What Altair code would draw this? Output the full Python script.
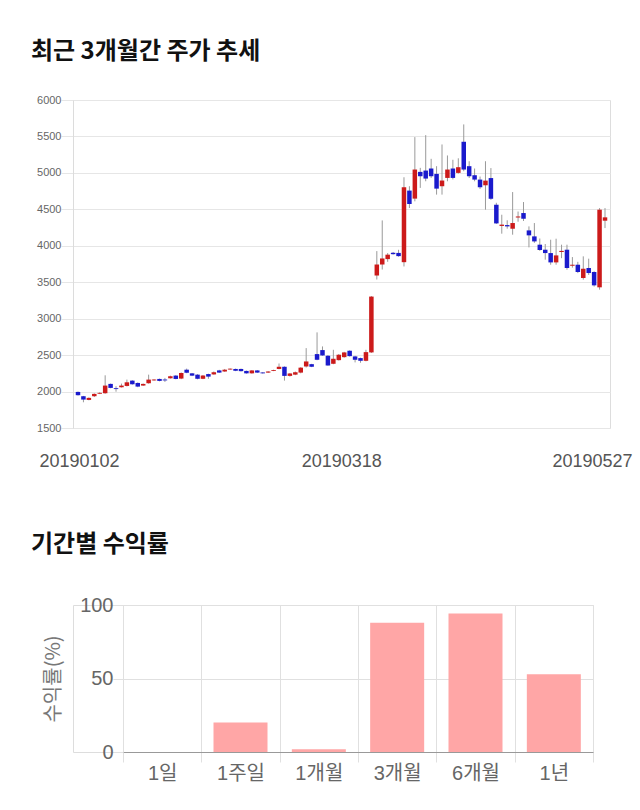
import altair as alt
import pandas as pd
import numpy as np

# ---- trading days (2019) ----
jan = [2, 3, 4, 7, 8, 9, 10, 11, 14, 15, 16, 17, 18, 21, 22, 23, 24, 25, 28, 29, 30, 31]
feb = [1, 7, 8, 11, 12, 13, 14, 15, 18, 19, 20, 21, 22, 25, 26, 27, 28]
mar = [4, 5, 6, 7, 8, 11, 12, 13, 14, 15, 18, 19, 20, 21, 22, 25, 26, 27, 28, 29]
apr = [1, 2, 3, 4, 5, 8, 9, 10, 11, 12, 15, 16, 17, 18, 19, 22, 23, 24, 25, 26, 29, 30]
may = [2, 3, 7, 8, 9, 10, 13, 14, 15, 16, 17, 20, 21, 22, 23, 24, 27]
dates = [f"2019{m:02d}{d:02d}" for m, days in ((1, jan), (2, feb), (3, mar), (4, apr), (5, may)) for d in days]

open_ = [1995, 1936, 1885, 1936, 1970, 1977, 2105, 2046, 2059, 2077,
         2150, 2118, 2082, 2114, 2153, 2173, 2165, 2182, 2219, 2178,
         2300, 2250, 2232, 2175, 2240, 2235, 2290, 2275, 2302, 2310,
         2310, 2283, 2250, 2290, 2262, 2260, 2284, 2310, 2340, 2215,
         2232, 2260, 2344, 2376, 2514, 2569, 2491, 2381, 2431, 2472,
         2560, 2482, 2459, 2422, 2537, 3592, 3743, 3817, 3904, 3902,
         3775, 4757, 4647, 5014, 5032, 5060, 4986, 4817, 4931, 5060,
         5000, 5427, 5092, 4968, 4908, 4830, 4929, 4563, 4272, 4284,
         4234, 4388, 4449, 4211, 4129, 4015, 3946, 3900, 3772, 3915,
         3946, 3726, 3740, 3558, 3695, 3640, 3430, 4344]
high = [2000, 1940, 1920, 1975, 1990, 2223, 2110, 2073, 2109, 2164,
        2155, 2125, 2110, 2232, 2170, 2178, 2187, 2218, 2225, 2262,
        2315, 2255, 2238, 2226, 2245, 2275, 2298, 2310, 2318, 2315,
        2315, 2288, 2295, 2295, 2266, 2280, 2300, 2385, 2345, 2255,
        2275, 2335, 2596, 2380, 2812, 2619, 2500, 2573, 2515, 2545,
        2565, 2490, 2465, 2573, 3310, 3927, 4348, 3900, 3915, 3945,
        4940, 4817, 5491, 5069, 5518, 5193, 5092, 5390, 5239, 5180,
        5200, 5665, 5160, 5060, 4950, 5160, 5066, 4590, 4426, 4350,
        4737, 4470, 4600, 4266, 4312, 4100, 4024, 4083, 4097, 4015,
        4015, 3845, 3780, 3855, 3823, 3650, 4517, 4517]
low = [1945, 1853, 1880, 1925, 1965, 1970, 2045, 1998, 2055, 2070,
       2095, 2060, 2078, 2108, 2148, 2140, 2132, 2178, 2168, 2170,
       2252, 2212, 2168, 2170, 2175, 2230, 2255, 2270, 2298, 2280,
       2275, 2245, 2245, 2255, 2246, 2255, 2280, 2305, 2150, 2205,
       2225, 2250, 2330, 2335, 2430, 2490, 2355, 2375, 2425, 2465,
       2480, 2400, 2395, 2415, 2530, 3537, 3674, 3780, 3878, 3850,
       3716, 4518, 4610, 4794, 4885, 4931, 4702, 4702, 4885, 4910,
       4990, 5023, 4930, 4885, 4780, 4495, 4630, 4300, 4166, 4235,
       4152, 4330, 4340, 3978, 4040, 3930, 3809, 3740, 3740, 3830,
       3672, 3700, 3625, 3535, 3600, 3440, 3398, 4243]
close = [1950, 1890, 1913, 1968, 1982, 2082, 2050, 2034, 2082, 2127,
         2100, 2068, 2105, 2164, 2165, 2146, 2153, 2210, 2173, 2255,
         2258, 2218, 2175, 2220, 2205, 2265, 2260, 2300, 2314, 2285,
         2280, 2250, 2290, 2260, 2250, 2275, 2296, 2340, 2215, 2248,
         2265, 2328, 2413, 2340, 2436, 2495, 2358, 2450, 2505, 2537,
         2486, 2436, 2422, 2541, 3303, 3743, 3826, 3878, 3885, 3858,
         4803, 4573, 5046, 4954, 4922, 4954, 4784, 4895, 5046, 4931,
         5078, 5046, 4954, 4908, 4803, 4894, 4645, 4307, 4290, 4266,
         4312, 4402, 4371, 4143, 4060, 3942, 3900, 3772, 3868, 3930,
         3695, 3740, 3640, 3686, 3626, 3457, 4495, 4390]

date_ticks = ["20190102", "20190318", "20190527"]
y_ticks = [1500, 2000, 2500, 3000, 3500, 4000, 4500, 5000, 5500, 6000]

periods = ["1일", "1주일", "1개월", "3개월", "6개월", "1년"]
returns = [0.0, 20.1, 1.8, 87.9, 94.3, 52.9]
ret_ticks = [0, 50, 100]

NUM_FONT = "Liberation Sans, Arial, Noto Sans CJK KR"
KR_FONT = "Noto Sans CJK KR"

df = pd.DataFrame({"i": list(range(len(dates))), "date": dates,
                   "open": open_, "high": high, "low": low, "close": close})
df["dir"] = np.where(df["close"] >= df["open"], "up", "down")

tick_idx = [dates.index(d) for d in date_ticks]
label_expr = " : ".join(f"datum.value == {i} ? '{d}'" for i, d in zip(tick_idx, date_ticks)) + " : ''"

x_enc = alt.X(
    "i:Q",
    scale=alt.Scale(domain=[0, len(dates) - 1], nice=False, zero=False),
    axis=alt.Axis(
        values=tick_idx, labelExpr=label_expr, grid=False, domain=False, ticks=False,
        labelFontSize=18, labelColor="#555555", labelFont=NUM_FONT, labelPadding=24,
        labelOverlap=False,
        labelOffset={"condition": [{"test": f"datum.value == {tick_idx[0]}", "value": 1},
                                   {"test": f"datum.value == {tick_idx[-1]}", "value": -13}],
                     "value": -3},
    ),
    title=None,
)
y_axis = alt.Axis(values=y_ticks, format="d", gridColor="#e6e6e6", tickColor="#e6e6e6", tickSize=12,
                  labelPadding=0, domainColor="#dcdcdc", labelFontSize=11,
                  labelColor="#666666", labelFont=NUM_FONT)
y_scale = alt.Scale(domain=[1500, 6000], nice=False, zero=False)

base = alt.Chart(df)
wicks = base.mark_rule(color="#9a9a9a", strokeWidth=1, clip=True).encode(
    x=x_enc,
    y=alt.Y("low:Q", scale=y_scale, axis=y_axis, title=None),
    y2="high:Q",
)
bodies = base.mark_bar(size=4.5, clip=True).encode(
    x=x_enc,
    y=alt.Y("open:Q", scale=y_scale, axis=y_axis, title=None),
    y2="close:Q",
    color=alt.Color("dir:N", scale=alt.Scale(domain=["up", "down"], range=["#cc1a1a", "#1a1acc"]), legend=None),
)
top = alt.layer(wicks, bodies).properties(
    width=537, height=328,
    title=alt.TitleParams("최근 3개월간 주가 추세", anchor="start", frame="group", dx=-42,
                          fontSize=24, fontWeight="bold", font=KR_FONT, color="#111111", offset=30),
)

# bottom chart shares the top chart's origin; its plot is shifted right through the scale range
SHIFT = 50
BW = 470
df2 = pd.DataFrame({"period": periods, "ret": returns})
bars = alt.Chart(df2).mark_bar(color="#ffa6a6", size=54).encode(
    x=alt.X("period:N", sort=periods,
            scale=alt.Scale(paddingInner=0, paddingOuter=0, range=[SHIFT, SHIFT + BW]),
            axis=alt.Axis(tickBand="extent", grid=True, gridColor="#e0e0e0", tickColor="#e0e0e0",
                          tickSize=10, labelPadding=1, labelFontSize=20, labelColor="#666666",
                          labelFont=NUM_FONT, labelAngle=0, domainColor="#999999"),
            title=None),
    y=alt.Y("ret:Q", scale=alt.Scale(domain=[0, 100], nice=False),
            axis=alt.Axis(values=ret_ticks, domain=False, gridColor="#e0e0e0", tickColor="#e0e0e0",
                          tickSize=10, labelPadding=0, labelFontSize=20, labelColor="#666666",
                          labelFont=NUM_FONT, titleFont=KR_FONT, titleFontSize=20, offset=-SHIFT,
                          titleColor="#777777", titleFontWeight="normal", titlePadding=16),
            title="수익률(%)"),
).properties(
    width=SHIFT + BW, height=147,
    title=alt.TitleParams("기간별 수익률", anchor="start", frame="group", dx=-42,
                          fontSize=24, fontWeight="bold", font=KR_FONT, color="#111111", offset=38),
)

chart = alt.vconcat(top, bars, spacing=61).properties(
    padding={"left": 30, "top": 39, "right": 2, "bottom": 2},
).configure_view(strokeWidth=0).configure(background="white")

chart.save("out.html", embed_options={"renderer": "svg", "actions": False})
